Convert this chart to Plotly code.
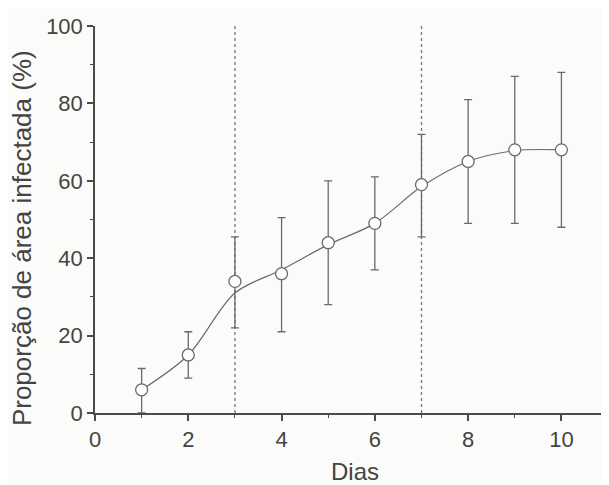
import plotly.graph_objects as go

# Data
dias = [1, 2, 3, 4, 5, 6, 7, 8, 9, 10]
proporcao = [6, 15, 34, 36, 44, 49, 59, 65, 68, 68]
erro_sup = [11.5, 21, 45.5, 50.5, 60, 61, 72, 81, 87, 88]
erro_inf = [0, 9, 22, 21, 28, 37, 45.5, 49, 49, 48]
curva = [6, 15, 31, 37, 43.5, 49, 58.5, 65, 67.8, 68]
linhas_verticais = [3, 7]
x_ticks = [0, 2, 4, 6, 8, 10]
y_ticks = [0, 20, 40, 60, 80, 100]

err_plus = [u - v for u, v in zip(erro_sup, proporcao)]
err_minus = [v - l for v, l in zip(proporcao, erro_inf)]

axis_col = "#4a4a4a"
mark_col = "#6a6a6a"
font = "Liberation Sans, Arial, sans-serif"

fig = go.Figure()

# fitted smooth curve
fig.add_trace(go.Scatter(
    x=dias, y=curva, mode="lines",
    line=dict(color=mark_col, width=1.2, shape="spline", smoothing=0.9),
    hoverinfo="skip", showlegend=False,
))

# points with error bars
fig.add_trace(go.Scatter(
    x=dias, y=proporcao, mode="markers",
    marker=dict(symbol="circle", size=12, color="white",
                line=dict(color=mark_col, width=1.3)),
    error_y=dict(type="data", symmetric=False, array=err_plus,
                 arrayminus=err_minus, color=mark_col, thickness=1.3, width=4),
    showlegend=False,
))

for xv in linhas_verticais:
    fig.add_shape(type="line", xref="x", yref="y", x0=xv, x1=xv, y0=0, y1=100,
                  line=dict(color="#777777", width=1.3, dash="dot"), layer="below")

# axis titles as annotations for precise placement
fig.add_annotation(text="Dias", xref="paper", yref="paper", x=0.506, y=-0.151,
                   xanchor="center", yanchor="middle", showarrow=False,
                   font=dict(size=24))
fig.add_annotation(text="Proporção de área infectada (%)", xref="paper", yref="paper",
                   x=-0.142, y=0.452, xanchor="center", yanchor="middle",
                   textangle=-90, showarrow=False, font=dict(size=26))

fig.update_layout(
    width=601, height=477,
    margin=dict(l=87, r=0, t=18, b=72),
    paper_bgcolor="#fbfbfa", plot_bgcolor="#fbfbfa",
    font=dict(family=font, size=22, color="#444444"),
    xaxis=dict(
        range=[0, 11.02], tickvals=x_ticks, showgrid=False, zeroline=False,
        automargin=False,
        showline=True, linecolor=axis_col, linewidth=1.5,
        ticks="outside", ticklen=6, tickwidth=1.5, tickcolor=axis_col,
        minor=dict(dtick=1, tick0=1, ticks="outside", ticklen=3, tickcolor=axis_col, tickwidth=1.2),
        tickfont=dict(size=22),
    ),
    yaxis=dict(
        range=[0, 100], tickvals=y_ticks, showgrid=False, zeroline=False,
        automargin=False,
        showline=True, linecolor=axis_col, linewidth=1.5,
        ticks="outside", ticklen=6, tickwidth=1.5, tickcolor=axis_col,
        minor=dict(dtick=10, tick0=10, ticks="outside", ticklen=3, tickcolor=axis_col, tickwidth=1.2),
        tickfont=dict(size=22),
    ),
)

fig.write_html("out.html")
